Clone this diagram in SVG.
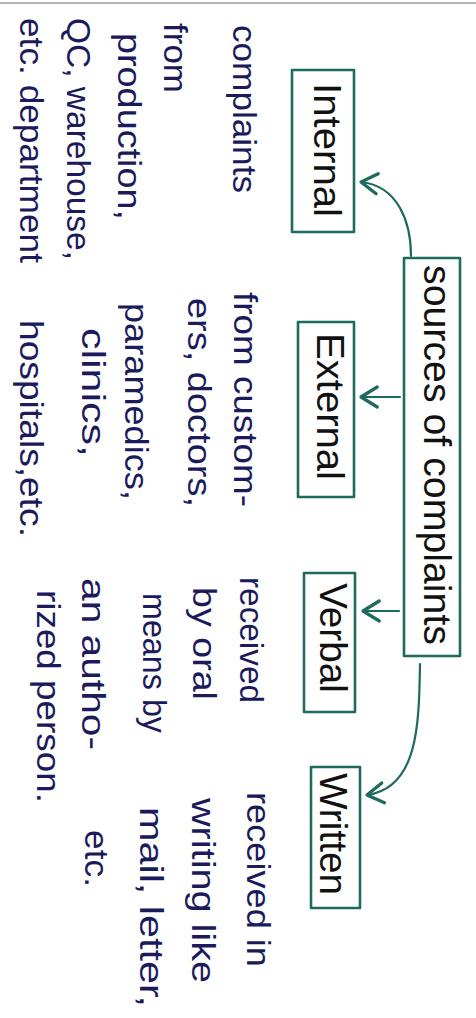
<svg xmlns="http://www.w3.org/2000/svg" width="476" height="1018" viewBox="0 0 476 1018">
<style>
.box{fill:none;stroke:#1e6b5d;stroke-width:2.6;stroke-linejoin:round}
.lbl{font-family:"Liberation Sans",Arial,sans-serif;fill:#111;font-size:39px}
.desc{font-family:"Liberation Sans",Arial,sans-serif;fill:#1b1b5c;font-size:34px}
.conn path{fill:none;stroke:#1e6b5d;stroke-width:2.2;stroke-linecap:round}
</style>
<defs>
<marker id="ah" markerUnits="userSpaceOnUse" markerWidth="30" markerHeight="30" refX="0" refY="0" viewBox="-16 -12 20 24" orient="auto">
<path d="M-13,-8 L0,0 L-13,8" fill="none" stroke="#1e6b5d" stroke-width="2.6" stroke-linecap="round" stroke-linejoin="round"/>
</marker>
</defs>
<rect width="476" height="1018" fill="#fff"/>
<line x1="0" y1="3" x2="476" y2="3" stroke="#9a9a9a" stroke-width="1.5"/>

<g class="conn">
<path d="M411,256 C411,222 398,186 361,182" marker-end="url(#ah)"/>
<path d="M400,397 L361,397" marker-end="url(#ah)"/>
<path d="M399,611 L363,611" marker-end="url(#ah)"/>
<path d="M420,664 C419,725 418,788 367,795" marker-end="url(#ah)"/>
</g>

<g id="sources">
<rect class="box" x="404" y="258" width="56" height="398"/>
<text class="lbl" transform="translate(424,265) rotate(90)" textLength="380" lengthAdjust="spacingAndGlyphs">sources of complaints</text>
</g>

<g id="internal">
<rect class="box" x="292" y="70" width="62" height="162"/>
<text class="lbl" transform="translate(314,83) rotate(90)" textLength="134" lengthAdjust="spacingAndGlyphs">Internal</text>
</g>

<g id="external">
<rect class="box" x="298" y="322" width="56" height="175"/>
<text class="lbl" transform="translate(317,333) rotate(90)" textLength="147" lengthAdjust="spacingAndGlyphs">External</text>
</g>

<g id="verbal">
<rect class="box" x="304" y="573" width="51" height="139"/>
<text class="lbl" transform="translate(320,583) rotate(90)" textLength="110" lengthAdjust="spacingAndGlyphs">Verbal</text>
</g>

<g id="written">
<rect class="box" x="311" y="767" width="49" height="141"/>
<text class="lbl" transform="translate(320,773) rotate(90)" textLength="122" lengthAdjust="spacingAndGlyphs">Written</text>
</g>

<g id="internal-desc" class="desc">
<text transform="translate(233,25) rotate(90)" textLength="168" lengthAdjust="spacingAndGlyphs">complaints</text>
<text transform="translate(164,23) rotate(90)" textLength="70" lengthAdjust="spacingAndGlyphs">from</text>
<text transform="translate(118,33) rotate(90)" textLength="187" lengthAdjust="spacingAndGlyphs">production,</text>
<text transform="translate(67,18) rotate(90)" textLength="242" lengthAdjust="spacingAndGlyphs">QC, warehouse,</text>
<text transform="translate(20,18) rotate(90)" textLength="245" lengthAdjust="spacingAndGlyphs">etc. department</text>
</g>

<g id="external-desc" class="desc">
<text transform="translate(234,292) rotate(90)" textLength="215" lengthAdjust="spacingAndGlyphs">from custom-</text>
<text transform="translate(188,298) rotate(90)" textLength="209" lengthAdjust="spacingAndGlyphs">ers, doctors,</text>
<text transform="translate(125,303) rotate(90)" textLength="197" lengthAdjust="spacingAndGlyphs">paramedics,</text>
<text transform="translate(82,328) rotate(90)" textLength="129" lengthAdjust="spacingAndGlyphs">clinics,</text>
<text transform="translate(20,320) rotate(90)" textLength="217" lengthAdjust="spacingAndGlyphs">hospitals,etc.</text>
</g>

<g id="verbal-desc" class="desc">
<text transform="translate(240,577) rotate(90)" textLength="126" lengthAdjust="spacingAndGlyphs">received</text>
<text transform="translate(193,587) rotate(90)" textLength="113" lengthAdjust="spacingAndGlyphs">by oral</text>
<text transform="translate(143,593) rotate(90)" textLength="140" lengthAdjust="spacingAndGlyphs">means by</text>
<text transform="translate(82,578) rotate(90)" textLength="172" lengthAdjust="spacingAndGlyphs">an autho-</text>
<text transform="translate(37,590) rotate(90)" textLength="213" lengthAdjust="spacingAndGlyphs">rized person.</text>
</g>

<g id="written-desc" class="desc">
<text transform="translate(247,792) rotate(90)" textLength="175" lengthAdjust="spacingAndGlyphs">received in</text>
<text transform="translate(192,798) rotate(90)" textLength="185" lengthAdjust="spacingAndGlyphs">writing like</text>
<text transform="translate(140,807) rotate(90)" textLength="200" lengthAdjust="spacingAndGlyphs">mail, letter,</text>
<text transform="translate(85,830) rotate(90)" textLength="57" lengthAdjust="spacingAndGlyphs">etc.</text>
</g>
</svg>
